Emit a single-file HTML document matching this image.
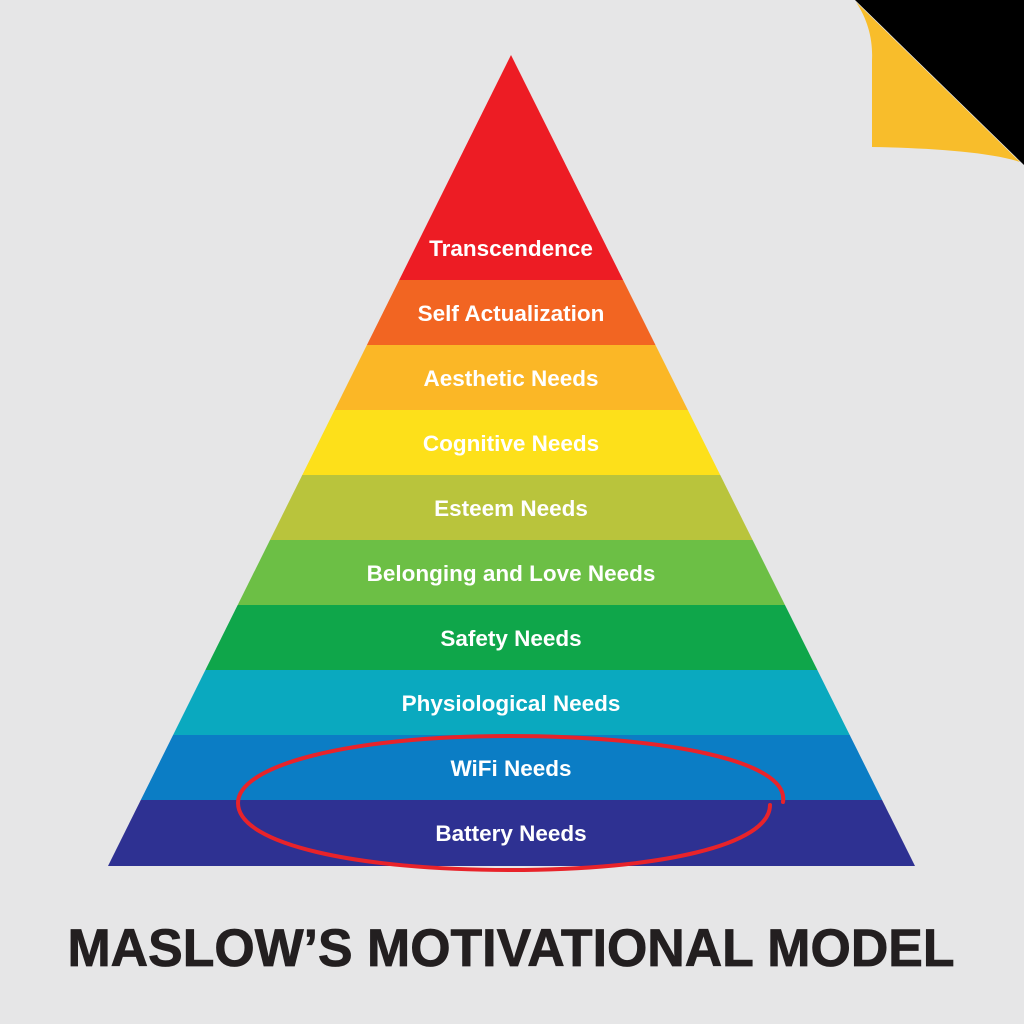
<!DOCTYPE html>
<html><head><style>html,body{margin:0;padding:0;background:#e6e6e7;}svg{display:block}</style></head>
<body>
<svg width="1024" height="1024" viewBox="0 0 1024 1024" xmlns="http://www.w3.org/2000/svg">
<rect width="1024" height="1024" fill="#e6e6e7"/>
<defs><clipPath id="tri"><polygon points="511,55 915,866 108,866"/></clipPath></defs>
<g clip-path="url(#tri)">
<rect x="0" y="40" width="1024" height="240" fill="#ed1c24"/>
<rect x="0" y="280" width="1024" height="65" fill="#f26522"/>
<rect x="0" y="345" width="1024" height="65" fill="#fbb726"/>
<rect x="0" y="410" width="1024" height="65" fill="#fde01a"/>
<rect x="0" y="475" width="1024" height="65" fill="#b9c43c"/>
<rect x="0" y="540" width="1024" height="65" fill="#6cbf45"/>
<rect x="0" y="605" width="1024" height="65" fill="#0fa64a"/>
<rect x="0" y="670" width="1024" height="65" fill="#0aa9bf"/>
<rect x="0" y="735" width="1024" height="65" fill="#0b7dc5"/>
<rect x="0" y="800" width="1024" height="70" fill="#2e3192"/>
</g>
<g font-family="Liberation Sans, sans-serif" font-weight="bold" font-size="22.5" fill="#fff" text-anchor="middle">
<text x="511" y="256">Transcendence</text>
<text x="511" y="321">Self Actualization</text>
<text x="511" y="386">Aesthetic Needs</text>
<text x="511" y="451">Cognitive Needs</text>
<text x="511" y="516">Esteem Needs</text>
<text x="511" y="581">Belonging and Love Needs</text>
<text x="511" y="646">Safety Needs</text>
<text x="511" y="711">Physiological Needs</text>
<text x="511" y="776">WiFi Needs</text>
<text x="511" y="841">Battery Needs</text>
</g>
<path d="M783,802 C790,760 660,736 510,736 C350,736 238,765 238,803 C238,845 360,870 510,870 C660,870 770,845 770,805" fill="none" stroke="#e8232a" stroke-width="4" stroke-linecap="round"/>
<polygon points="855,0 1024,0 1024,165" fill="#000"/>
<path d="M856,2 C868,20 873,40 872,60 L872,147 C930,148 990,152 1020,162 Z" fill="#f8bd2b"/>
<text x="511" y="966" font-family="Liberation Sans, sans-serif" font-weight="bold" font-size="53" fill="#231f20" stroke="#231f20" stroke-width="0.8" text-anchor="middle" textLength="887" lengthAdjust="spacingAndGlyphs">MASLOW’S MOTIVATIONAL MODEL</text>
</svg>
</body></html>
